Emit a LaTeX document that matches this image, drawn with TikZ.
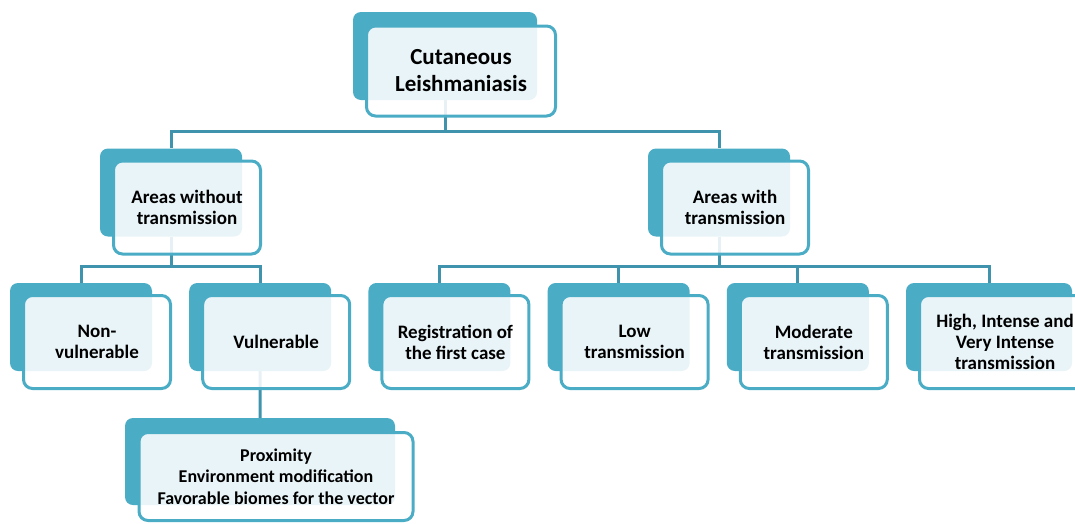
\documentclass[tikz,border=0pt]{standalone}
\usepackage{fontspec}
\setmainfont{Carlito}
\usetikzlibrary{positioning, backgrounds}
\definecolor{clteal}{HTML}{4BACC6}
\definecolor{clline}{HTML}{3F93AD}
\tikzstyle{back} = [fill=clteal, rounded corners=8pt, inner sep=0pt, minimum width=142pt, minimum height=88pt]
\tikzstyle{block} = [draw=clteal, line width=3pt, fill=white, fill opacity=0.88, text opacity=1, rounded corners=9pt, inner sep=2pt, minimum width=147pt, minimum height=93pt, align=center, font=\bfseries\fontsize{19}{21}\selectfont]
\tikzstyle{conn} = [draw=clline, line width=3pt]

\begin{document}
\begin{tikzpicture}[x=1pt, y=-1pt]
    \clip (0,0) rectangle (1075,523);
    % back boxes
    \node[back, minimum width=184pt] (cl-b) at (445,56) {};
    \node[back] (aw-b) at (171,192.5) {};
    \node[back] (awt-b) at (719,192.5) {};
    \node[back] (nv-b) at (81,327) {};
    \node[back, right=36.8pt of nv-b] (vu-b) {};
    \node[back, right=36.8pt of vu-b] (rf-b) {};
    \node[back, right=36.8pt of rf-b] (lo-b) {};
    \node[back, right=36.8pt of lo-b] (mo-b) {};
    \node[back, right=36.8pt of mo-b, minimum width=166pt] (hi-b) {};
    \node[back, minimum width=270pt, minimum height=87pt] (px-b) at (260,461.5) {};
    % front boxes
    \node[block, minimum width=189pt, minimum height=90pt, font=\bfseries\fontsize{23}{27}\selectfont] (cl) at ([shift={(16,15)}]cl-b.center) {Cutaneous\\Leishmaniasis};
    \node[block] (aw) at ([shift={(16,15)}]aw-b.center) {Areas without\\transmission};
    \node[block] (awt) at ([shift={(16,15)}]awt-b.center) {Areas with\\transmission};
    \node[block] (nv) at ([shift={(16,15)}]nv-b.center) {Non-\\vulnerable};
    \node[block] (vu) at ([shift={(16,15)}]vu-b.center) {Vulnerable};
    \node[block] (rf) at ([shift={(16,15)}]rf-b.center) {Registration of\\the first case};
    \node[block] (lo) at ([shift={(16,15)}]lo-b.center) {Low\\transmission};
    \node[block] (mo) at ([shift={(16,15)}]mo-b.center) {Moderate\\transmission};
    \node[block, minimum width=171pt] (hi) at ([shift={(16,15)}]hi-b.center) {High, Intense and\\Very Intense\\transmission};
    \node[block, minimum width=274pt, minimum height=88pt, font=\bfseries\fontsize{18}{21.5}\selectfont] (px) at ([shift={(16,15)}]px-b.center) {Proximity\\Environment modification\\Favorable biomes for the vector};
    % connectors behind the boxes
    \begin{scope}[on background layer]
        \draw[conn] (cl-b.south) -- ++(0,31) -| (aw-b.north);
        \draw[conn] (cl-b.south) ++(0,31) -| (awt-b.north);
        \draw[conn] (aw-b.south) -- ++(0,30) -| (nv-b.north);
        \draw[conn] (aw-b.south) ++(0,30) -| (vu-b.north);
        \draw[conn] (awt-b.south) -- ++(0,30) -| (rf-b.north);
        \draw[conn] (awt-b.south) ++(0,30) -| (lo-b.north);
        \draw[conn] (awt-b.south) ++(0,30) -| (mo-b.north);
        \draw[conn] (awt-b.south) ++(0,30) -| (hi-b.north);
        \draw[conn] (vu-b.south) -- (px-b.north);
    \end{scope}
\end{tikzpicture}
\end{document}
